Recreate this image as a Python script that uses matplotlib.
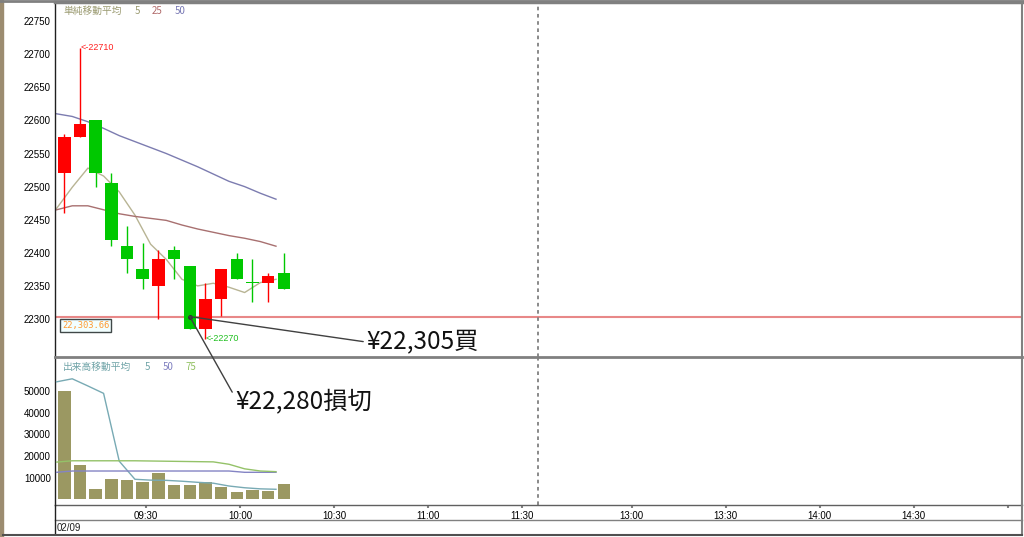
import numpy as np
import matplotlib.pyplot as plt
from matplotlib.lines import Line2D
from matplotlib.patches import Rectangle

plt.rcParams['font.family'] = ['Noto Sans CJK JP', 'DejaVu Sans']

# 5分足 (02/09 09:00 - 10:10)
opens  = [22520, 22575, 22600, 22505, 22410, 22375, 22350, 22405, 22380, 22285, 22330, 22390, 22355, 22355, 22370]
highs  = [22580, 22710, 22600, 22520, 22440, 22415, 22405, 22410, 22380, 22355, 22375, 22400, 22390, 22370, 22400]
lows   = [22460, 22575, 22500, 22410, 22370, 22345, 22300, 22360, 22285, 22270, 22305, 22360, 22325, 22325, 22345]
closes = [22575, 22595, 22520, 22420, 22390, 22360, 22390, 22390, 22285, 22330, 22375, 22360, 22355, 22365, 22345]

# 単純移動平均 5 / 25 / 50
ma5  = [22467, 22499, 22528, 22516, 22492, 22457, 22413, 22390, 22360, 22350, 22354, 22348, 22340, 22355, 22360]
ma25 = [22465, 22471, 22471, 22465, 22459, 22455, 22452, 22449, 22442, 22436, 22431, 22426, 22422, 22417, 22410]
ma50 = [22610, 22606, 22598, 22588, 22577, 22568, 22559, 22550, 22540, 22530, 22519, 22508, 22500, 22490, 22481]

# 出来高と出来高移動平均 5 / 50 / 75
volume = [49800, 16000, 5000, 9400, 9100, 7900, 12200, 6500, 6500, 7900, 5700, 3400, 4500, 4000, 7200]
vma5  = [54100, 55500, 52200, 48800, 17600, 9300, 8900, 8800, 8400, 7900, 7500, 6200, 5400, 4900, 4700]
vma50 = [12500, 13100, 13100, 13100, 13100, 13100, 13100, 13100, 13100, 13100, 13100, 13100, 12500, 12500, 12500]
vma75 = [17200, 17800, 17800, 17800, 17800, 17800, 17700, 17600, 17500, 17400, 17300, 16200, 14100, 13100, 12800]

entry_price = 22303.66
time_ticks = ['09:30', '10:00', '10:30', '11:00', '11:30', '13:00', '13:30', '14:00', '14:30', '15:00']
date_label = '02/09'
notes = ['¥22,305買', '¥22,280損切']


def to_x(hhmm):
    # 分単位 (09:00 起点)、昼休みは詰めて5分の隙間を残す
    h, m = map(int, hhmm.split(':'))
    t = (h - 9) * 60 + m
    return t - 55 if t >= 210 else t


W, H = 1024, 537
def box(x0, y0, x1, y1):
    return [x0 / W, 1 - y1 / H, (x1 - x0) / W, (y1 - y0) / H]

fig = plt.figure(figsize=(W / 100, H / 100), dpi=100)
ax = fig.add_axes(box(55, 2, 1022, 357))
axv = fig.add_axes(box(55, 357, 1022, 505), sharex=ax)
ax.set_zorder(3)  # 注記を出来高パネルの上に描く

n = len(opens)
x = np.arange(n) * 5 + 4
xm = x - 2.5
up = np.array(closes) >= np.array(opens)
up[12] = False
col = np.where(up, '#ff0000', '#00c800')

# ローソク足
ax.vlines(x, lows, highs, colors=col, lw=1, zorder=3)
body = np.array(closes) - np.array(opens)
body = np.where(np.abs(body) < 1.5, 1.5, body)
ax.bar(x, body, bottom=opens, width=4, color=col, zorder=4)

ax.plot(xm, ma5, color='#b8b494', lw=1, zorder=2)
ax.plot(xm, ma25, color='#a87070', lw=1, zorder=2)
ax.plot(xm, ma50, color='#7c7cb0', lw=1, zorder=2)

ax.axhline(entry_price, color='#e88888', lw=1.5, zorder=1)
ax.annotate(f'{entry_price:,.2f}', xy=(0, entry_price), xycoords=('axes fraction', 'data'),
            xytext=(5, -3), textcoords='offset points', ha='left', va='top',
            fontsize=6.3, family='DejaVu Sans Mono', color='#ff9a30',
            bbox=dict(boxstyle='square,pad=0.25', fc='#f2ffff', ec='#404848', lw=1))

i_hi = int(np.argmax(highs))
i_lo = int(np.argmin(lows))
ax.annotate(f'<-{highs[i_hi]}', xy=(x[i_hi], highs[i_hi]), ha='left', va='center',
            fontsize=6.5, color='#ff2020', family='Liberation Sans')
ax.annotate(f'<-{lows[i_lo]}', xy=(x[i_lo], lows[i_lo]), ha='left', va='center',
            fontsize=6.5, color='#20c020', family='Liberation Sans')

ax.set_ylim(22242.6, 22778.9)
ax.set_yticks(np.arange(22300, 22751, 50))
ax.set_xlim(1, 309.5)

# 出来高
axv.bar(x, volume, width=4, color='#9b9862', zorder=3)
axv.plot(xm, vma5, color='#78aab4', lw=1, zorder=4)
axv.plot(xm, vma50, color='#8484c4', lw=1, zorder=4)
axv.plot(xm, vma75, color='#94c268', lw=1, zorder=4)
axv.set_ylim(-2530, 65520)
axv.set_yticks(np.arange(10000, 50001, 10000))
axv.set_xticks([to_x(t) for t in time_ticks])
axv.set_xticklabels(time_ticks[:-1] + [''])

for a in (ax, axv):
    a.axvline(to_x('11:35'), color='#808080', ls=(0, (2, 2)), lw=1.3, zorder=1)
    a.tick_params(axis='y', length=0, pad=3, labelsize=7, labelcolor='black')
    for lab in a.get_yticklabels():
        lab.set_family('Liberation Sans')
    a.spines['left'].set_color('#202020')
    a.spines['left'].set_linewidth(1)
    a.spines['right'].set_color('#808080')
    a.spines['right'].set_linewidth(1.5)

ax.tick_params(axis='x', length=0, labelbottom=False)
ax.spines['top'].set_color('#808080')
ax.spines['top'].set_linewidth(2.5)
ax.spines['bottom'].set_color('#808080')
ax.spines['bottom'].set_linewidth(2)
axv.spines['top'].set_visible(False)
axv.spines['bottom'].set_color('#606060')
axv.spines['bottom'].set_linewidth(1)
axv.tick_params(axis='x', length=2, width=1.5, color='#808080', pad=2, labelsize=7)
for lab in axv.get_xticklabels():
    lab.set_family('Liberation Sans')

# 注記
for txt, pos, rel in [(notes[0], (366, H - 342), (0, 0.5)), (notes[1], (235, H - 401), (0, 0.65))]:
    ax.annotate(txt, xy=(x[8], entry_price), xycoords='data', xytext=pos,
                textcoords='figure pixels', ha='left', va='center', fontsize=17.5,
                color='#111111', annotation_clip=False, zorder=10,
                arrowprops=dict(arrowstyle='-', color='#404040', lw=1,
                                shrinkA=0, shrinkB=0, relpos=rel))
ax.plot(x[8], entry_price, 'o', ms=2.5, color='#303030', zorder=6)

# 凡例テキスト
def ftext(px, py, s, c):
    fig.text(px / W, 1 - py / H, s, color=c, fontsize=7, ha='left', va='center')

ftext(63, 10.5, '単純移動平均', '#9a9a70')
ftext(135, 10.5, '5', '#9a9a70')
ftext(152, 10.5, '25', '#b06a6a')
ftext(175, 10.5, '50', '#7878b4')
ftext(63, 367, '出来高移動平均', '#70a4a8')
ftext(145, 367, '5', '#70a4a8')
ftext(163, 367, '50', '#8080c0')
ftext(186, 367, '75', '#90c060')
fig.text(57 / W, 1 - 528 / H, date_label, fontsize=7, family='Liberation Sans',
         ha='left', va='center', color='#202020')

# 枠線
def fline(xs, ys, c, lw):
    fig.add_artist(Line2D([v / W for v in xs], [1 - v / H for v in ys], color=c, lw=lw))

fline([55, 1022], [520, 520], '#808080', 1)
fline([55, 55], [505, 534], '#202020', 1)
fline([1022, 1022], [505, 534], '#808080', 1.5)
fline([3, 1022], [534.5, 534.5], '#505050', 1.5)
fline([0, 1024], [1, 1], '#808080', 2)
fig.add_artist(Rectangle((0, 0), 2.5 / W, 1, transform=fig.transFigure, color='#9c8c70'))

fig.savefig('out.png', dpi=100)
